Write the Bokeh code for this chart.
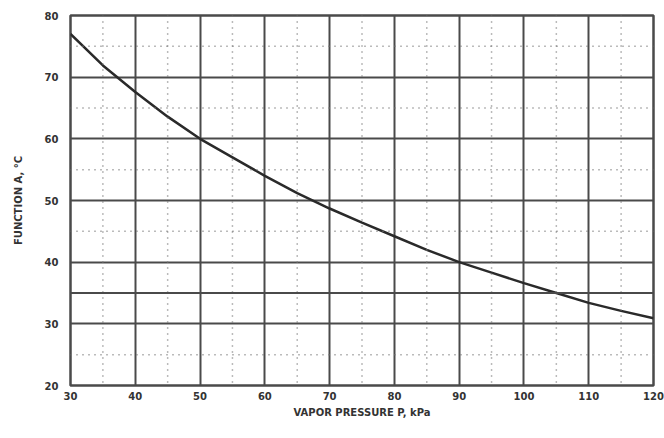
from bokeh.plotting import figure
from bokeh.models import FixedTicker, Span
from bokeh.embed import file_html
from bokeh.resources import INLINE

# Data
pressure_kpa = [30, 35, 40, 45, 50, 55, 60, 65, 70, 75, 80, 85, 90, 95, 100, 105, 110, 115, 120]
function_a_c = [77.0, 71.9, 67.6, 63.6, 60.0, 57.0, 54.0, 51.2, 48.7, 46.4, 44.2, 42.0, 40.0, 38.3, 36.6, 35.0, 33.4, 32.1, 30.9]
x_ticks = [30, 40, 50, 60, 70, 80, 90, 100, 110, 120]
y_ticks = [20, 30, 40, 50, 60, 70, 80]
x_minor = [35, 45, 55, 65, 75, 85, 95, 105, 115]
y_minor = [25, 45, 55, 65, 75]
y_extra = [35]

INK = "#4a4a4a"

p = figure(width=664, height=438, output_backend="svg", toolbar_location=None,
           x_range=(30, 120), y_range=(20, 80),
           min_border_left=70, min_border_right=11, min_border_top=15, min_border_bottom=53,
           background_fill_color="white", border_fill_color="white")

p.xaxis.ticker = FixedTicker(ticks=x_ticks)
p.yaxis.ticker = FixedTicker(ticks=y_ticks)
for ax in (p.xaxis[0], p.yaxis[0]):
    ax.axis_line_color = None
    ax.major_tick_line_color = None
    ax.minor_tick_line_color = None
    ax.major_label_text_font = "DejaVu Sans"
    ax.major_label_text_font_style = "bold"
    ax.major_label_text_font_size = "10px"
    ax.major_label_text_color = "#333333"
    ax.axis_label_text_font = "DejaVu Sans"
    ax.axis_label_text_font_style = "bold"
    ax.axis_label_text_font_size = "10px"
    ax.axis_label_text_color = "#333333"
p.xaxis.major_label_standoff = 0
p.yaxis.major_label_standoff = 6
p.xaxis.axis_label = "VAPOR PRESSURE P, kPa"
p.yaxis.axis_label = "FUNCTION A, °C"
p.xaxis.axis_label_standoff = 4
p.yaxis.axis_label_standoff = 18

p.xgrid.ticker = FixedTicker(ticks=x_ticks)
p.ygrid.ticker = FixedTicker(ticks=y_ticks)
p.grid.grid_line_color = INK
p.grid.grid_line_width = 2
p.grid.grid_line_alpha = 1.0

for xv in x_minor:
    p.add_layout(Span(location=xv, dimension="height", line_color="#777777",
                      line_width=1.5, line_dash="1 5"))
for yv in y_minor:
    p.add_layout(Span(location=yv, dimension="width", line_color="#777777",
                      line_width=1.5, line_dash="1 5"))
for yv in y_extra:
    p.add_layout(Span(location=yv, dimension="width", line_color=INK, line_width=2))

p.outline_line_color = INK
p.outline_line_width = 2.5

p.line(pressure_kpa, function_a_c, line_color="#2a2a2a", line_width=2.5)

open("out.html", "w").write(file_html(p, INLINE))
